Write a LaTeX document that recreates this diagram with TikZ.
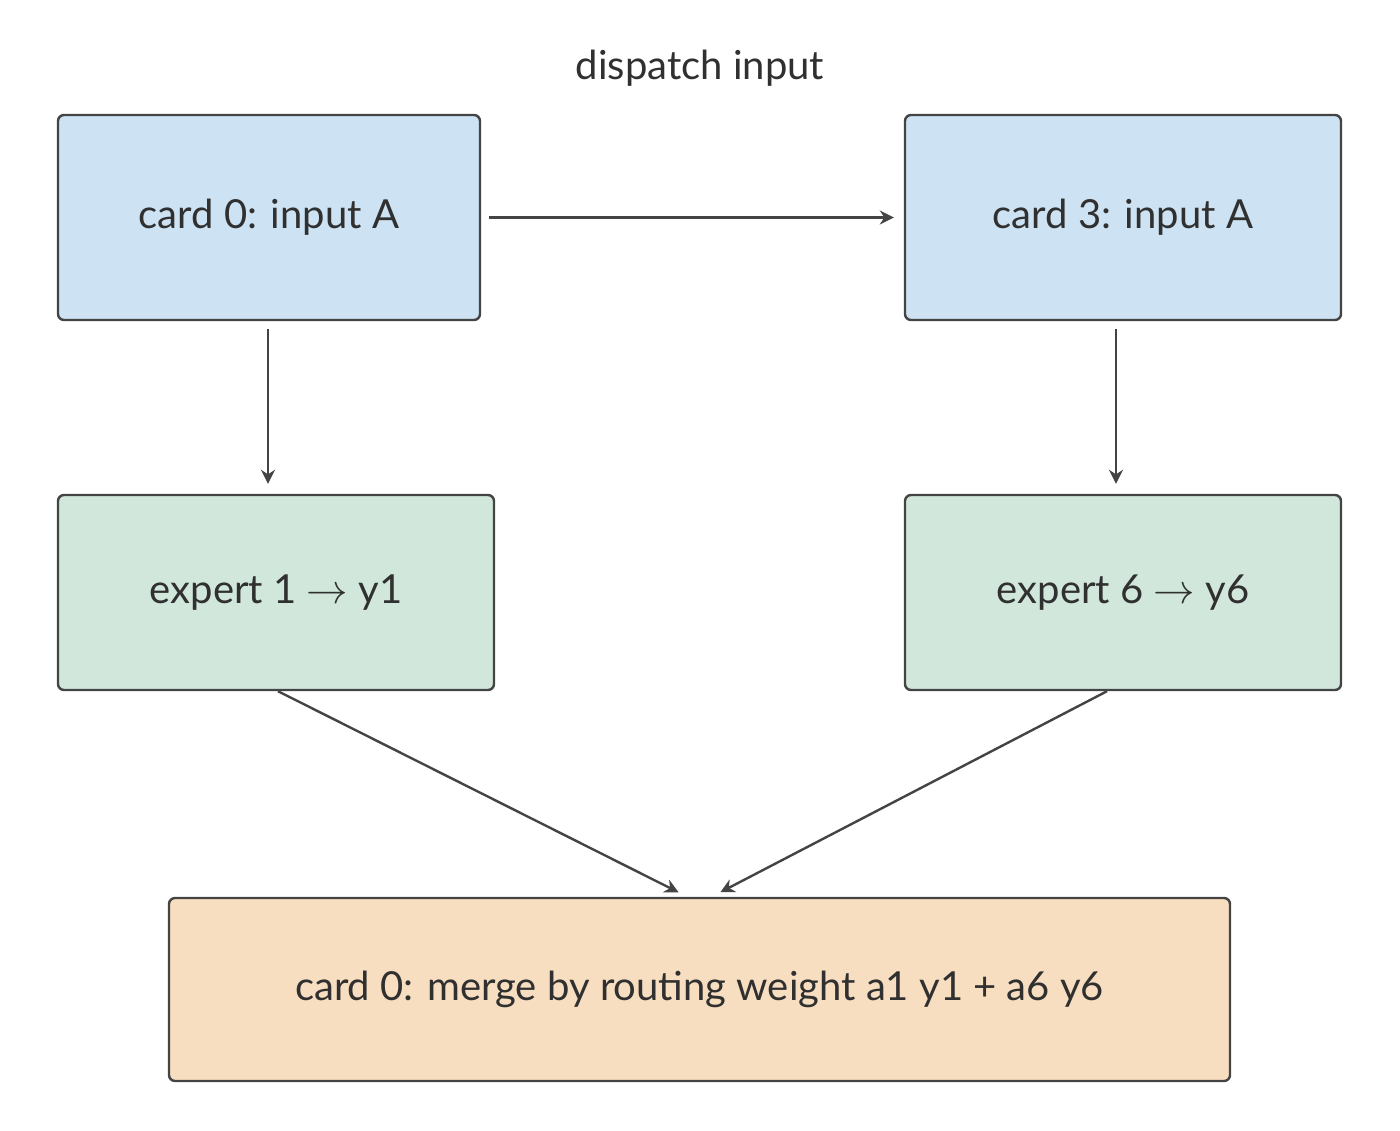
\documentclass[tikz,border=0pt]{standalone}
\usepackage{fontspec}
\setmainfont{Lato}
\usetikzlibrary{arrows.meta}
\definecolor{cardblue}{HTML}{CDE2F2}
\definecolor{expgreen}{HTML}{D1E7DC}
\definecolor{mergeorange}{HTML}{F8DEC0}
\definecolor{edgegray}{HTML}{444444}
\begin{document}
\begin{tikzpicture}[x=0.5pt, y=-0.5pt, thick,
 box/.style={draw=edgegray, line width=1.2pt, rounded corners=3pt, font=\fontsize{20}{24}\selectfont, text=edgegray!70!black},
 flow/.style={draw=edgegray, line width=1.2pt, -{Stealth[length=7pt,width=7pt]}, shorten <=4pt, shorten >=5pt}]

  \useasboundingbox (0,0) rectangle (1400,1130);
  \node[font=\fontsize{20}{24}\selectfont, text=edgegray!70!black] (title) at (700,68) {dispatch input};

  \node[box, fill=cardblue, minimum width=211pt, minimum height=102.5pt] (card0) at (269,217.5) {card 0: input A};
  \node[box, fill=cardblue, minimum width=218pt, minimum height=102.5pt] (card3) at (1123,217.5) {card 3: input A};
  \node[box, fill=expgreen, minimum width=218pt, minimum height=97.5pt] (exp1) at (276,592.5) {expert 1 $\rightarrow$ y1};
  \node[box, fill=expgreen, minimum width=218pt, minimum height=97.5pt] (exp6) at (1123,592.5) {expert 6 $\rightarrow$ y6};
  \node[box, fill=mergeorange, minimum width=530.5pt, minimum height=91.5pt] (merge) at (699.5,989.5) {card 0: merge by routing weight a1 y1 + a6 y6};

  \draw[flow] (card0.east) -- (card3.west);
  \draw[flow] ([xshift=-0.5pt]card0.south) -- ([xshift=-0.5pt]card0.south |- exp1.north);
  \draw[flow] ([xshift=-3.5pt]card3.south) -- ([xshift=-3.5pt]card3.south |- exp6.north);
  \draw[flow, shorten <=0pt] ([xshift=1pt]exp1.south) -- ([xshift=-6pt]merge.north);
  \draw[flow, shorten <=0pt] ([xshift=-8pt]exp6.south) -- ([xshift=6pt]merge.north);
\end{tikzpicture}
\end{document}
